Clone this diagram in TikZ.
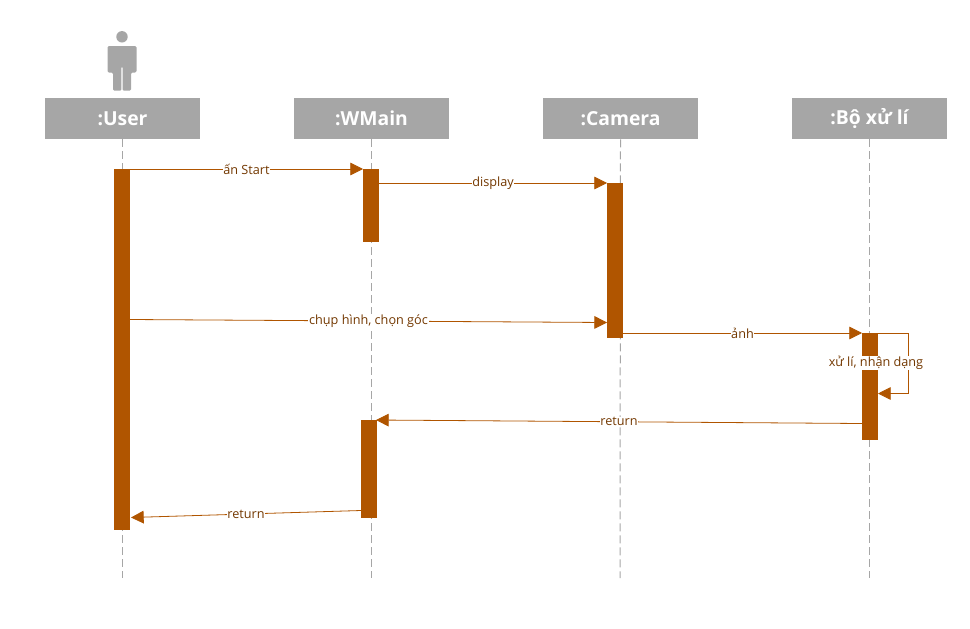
\documentclass[tikz,border=0pt]{standalone}
\usepackage{fontspec}
\setmainfont{Open Sans}
\usetikzlibrary{arrows.meta}
\definecolor{hdr}{HTML}{A6A6A6}
\definecolor{bar}{HTML}{B05500}
\definecolor{lbl}{HTML}{733800}
\tikzset{
  x=0.75pt,y=-0.75pt,
  header/.style={fill=hdr,text=white,minimum width=116.25pt,minimum height=30.75pt,inner sep=0pt,font=\fontsize{14.5}{16}\selectfont\bfseries},
  lifeline/.style={hdr,line width=0.75pt,dash pattern=on 6pt off 3pt},
  actbar/.style={fill=bar,minimum width=12pt,inner sep=0pt,anchor=north},
  msg/.style={bar,line width=0.6pt,-{Triangle[length=9.5pt,width=9.5pt]}},
  msglabel/.style={fill=white,text=lbl,inner xsep=0.5pt,inner ysep=0.5pt,font=\fontsize{9.5}{11}\selectfont},
  person/.style={fill=hdr,draw=none}
}
\begin{document}
\begin{tikzpicture}
\useasboundingbox (0,0) rectangle (970,628);
% actor
\fill[person] (122,36.8) circle (4.3pt);
\fill[person,rounded corners=1pt] (107.5,72.5) -- (107.5,46) -- (136.5,46) -- (136.5,72.5) -- (131,72.5) -- (131,90.7) -- (122.6,90.7) -- (122.6,66.5) -- (121.4,66.5) -- (121.4,90.7) -- (113,90.7) -- (113,72.5) -- cycle;
% headers
\node[header] (huser) at (122.5,118.5) {:User};
\node[header] (hmain) at (371.5,118.5) {:WMain};
\node[header] (hcam) at (620.5,118.5) {:Camera};
\node[header] (hbo) at (869.5,118.5) {:Bộ xử lí};
% lifeline ends
\coordinate (euser) at (122.5,578);
\coordinate (emain) at (371.5,578);
\coordinate (ecam) at (620,578);
\coordinate (ebo) at (869.5,578);
\draw[lifeline] (huser.south) -- (euser);
\draw[lifeline] (hmain.south) -- (emain);
\draw[lifeline] (hcam.south) -- (ecam);
\draw[lifeline] (hbo.south) -- (ebo);
% activation bars
\node[actbar,minimum height=270.75pt] (auser) at (122,169) {};
\node[actbar,minimum height=54.75pt] (amain) at (371,169) {};
\node[actbar,minimum height=116.25pt] (acam) at (615,183) {};
\node[actbar,minimum height=80.25pt] (abo) at (870,333) {};
\node[actbar,minimum height=73.5pt] (amain2) at (369,420) {};
% connector end points
\coordinate (a1) at (130,169);
\coordinate (a2) at (363,169);
\coordinate (b1) at (379,183);
\coordinate (b2) at (607,183);
\coordinate (c1) at (130,319.5);
\coordinate (c2) at (607,322.5);
\coordinate (d1) at (623,333);
\coordinate (d2) at (862,333);
\coordinate (e1) at (878,333);
\coordinate (e2) at (908,333);
\coordinate (e3) at (908,393.5);
\coordinate (e4) at (878,393.5);
\coordinate (f1) at (862,423.5);
\coordinate (f2) at (376,420);
\coordinate (g1) at (361,510.5);
\coordinate (g2) at (131,517.5);
% messages
\draw[msg] (a1) -- node[msglabel]{ấn Start} (a2);
\draw[msg] (b1) -- node[msglabel]{display} (b2);
\draw[msg] (c1) -- node[msglabel]{chụp hình, chọn góc} (c2);
\draw[msg] (d1) -- node[msglabel]{ảnh} (d2);
\draw[msg] (e1) -- (e2) -- (e3) -- (e4);
\node[msglabel] (selfl) at (876,363) {xử lí, nhận dạng};
\draw[msg] (f1) -- node[msglabel]{return} (f2);
\draw[msg] (g1) -- node[msglabel]{return} (g2);
\end{tikzpicture}
\end{document}
